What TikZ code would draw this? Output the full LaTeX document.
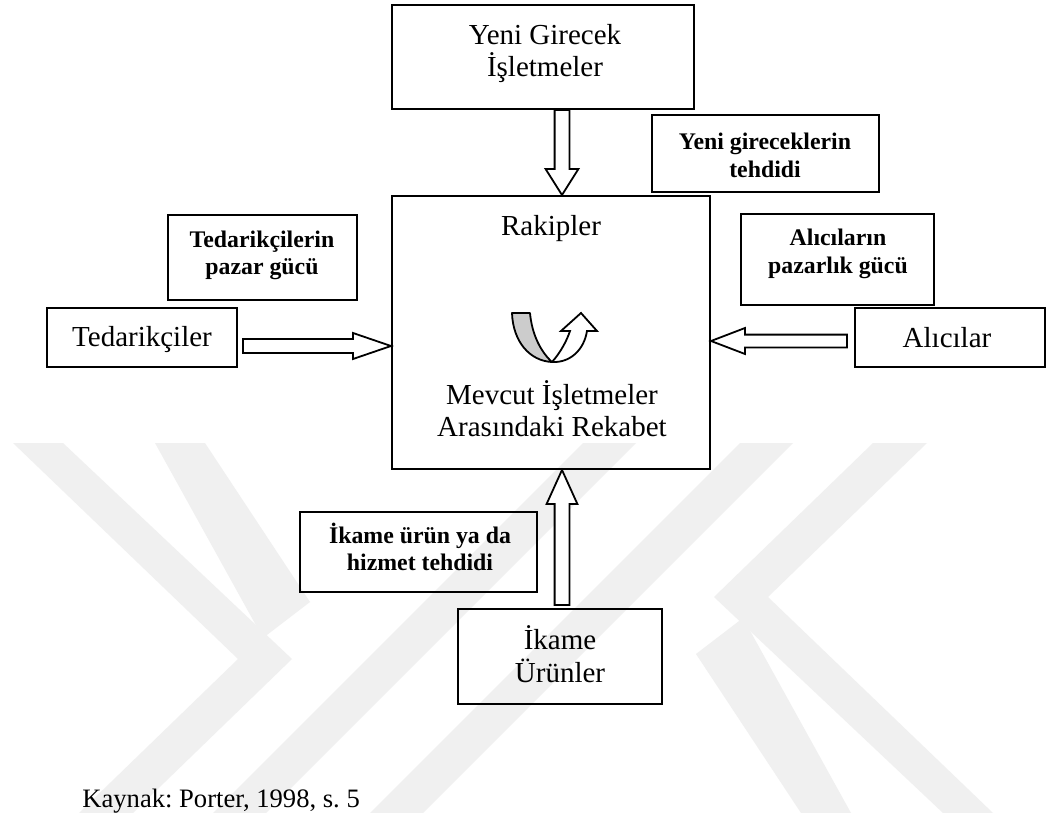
\documentclass[tikz,border=0pt]{standalone}
\usepackage{fontspec}
\setmainfont{Liberation Serif}
\usetikzlibrary{calc}
\frenchspacing

\tikzset{
  box/.style={draw, line width=1pt, rectangle, inner sep=0pt},
  tnorm/.style={font=\fontsize{14.5}{16.5}\selectfont, align=center, inner sep=0pt, anchor=base},
  tbold/.style={font=\fontsize{11.9}{13.5}\selectfont\bfseries, align=center, inner sep=0pt, anchor=base},
  hollow/.style={draw, fill=white, line width=0.9pt, line join=miter},
  wmark/.style={fill=black!6, draw=none},
}

% hollow block arrow: #1 tail, #2 tip, #3 half shaft width, #4 half head width, #5 head length
\newcommand\blockarrow[5]{%
  \path (#1) coordinate (ba-t) (#2) coordinate (ba-h);
  \path ($(ba-h)!#5!(ba-t)$) coordinate (ba-b);
  \draw[hollow] ($(ba-t)!#3!90:(ba-h)$) -- ($(ba-b)!#3!-90:(ba-t)$)
    -- ($(ba-b)!#4!-90:(ba-t)$) -- (ba-h) -- ($(ba-b)!#4!90:(ba-t)$)
    -- ($(ba-b)!#3!90:(ba-t)$) -- ($(ba-t)!#3!-90:(ba-h)$) -- cycle;
}

\begin{document}
\begin{tikzpicture}[x=0.5pt,y=-0.5pt]
\useasboundingbox (0,0) rectangle (1051,813);
\fill[white] (0,0) rectangle (1051,813);

% faint background emblem (point-symmetric about (503,628))
\fill[wmark] (13,443) -- (63,443) -- (292,659) -- (133,813) -- (79,813) -- (238,659) -- cycle;
\fill[wmark] (873,443) -- (927,443) -- (768,597) -- (993,813) -- (943,813) -- (714,597) -- cycle;
\fill[wmark] (155,443) -- (205,443) -- (310,602) -- (263,638) -- cycle;
\fill[wmark] (851,813) -- (801,813) -- (696,654) -- (743,618) -- cycle;
\fill[wmark] (740,443) -- (793,443) -- (423,813) -- (370,813) -- cycle;
\fill[wmark] (266,813) -- (213,813) -- (583,443) -- (636,443) -- cycle;

% boxes
\node[box, minimum width=151pt, minimum height=52pt] (newent) at (543,57) {};
\node[box, minimum width=159pt, minimum height=136.5pt] (rivals) at (551,332.5) {};
\node[box, minimum width=95pt, minimum height=29.5pt] (supp) at (142,337.5) {};
\node[box, minimum width=95pt, minimum height=29.5pt] (buy) at (950,337.5) {};
\node[box, minimum width=102pt, minimum height=47.5pt] (subst) at (560,656.5) {};
\node[box, minimum width=94.5pt, minimum height=42.5pt] (lsupp) at (262.5,257.5) {};
\node[box, minimum width=113.5pt, minimum height=38.5pt] (lnew) at (765.5,153.5) {};
\node[box, minimum width=96.5pt, minimum height=45.5pt] (lbuy) at (837.5,259.5) {};
\node[box, minimum width=118.5pt, minimum height=40pt] (lsubst) at (418.5,552) {};

% texts (anchored at the baseline of their last line)
\node[tnorm] (tnewent) at (545,77) {Yeni Girecek\\İşletmeler};
\node[tnorm] (trivals) at (551,235) {Rakipler};
\node[tnorm] (trivalry) at (552,437) {Mevcut İşletmeler\\Arasındaki Rekabet};
\node[tnorm] (tsupp) at (142,346) {Tedarikçiler};
\node[tnorm] (tbuy) at (947,348) {Alıcılar};
\node[tnorm] (tsubst) at (560,682) {İkame\\Ürünler};
\node[tbold] (tlnew) at (765,177) {Yeni gireceklerin\\tehdidi};
\node[tbold] (tlbuy) at (838,273) {Alıcıların\\pazarlık gücü};
\node[tbold] (tlsupp) at (262,275) {Tedarikçilerin\\pazar gücü};
\node[tbold] (tlsubst) at (420,570) {İkame ürün ya da\\hizmet tehdidi};
\node[font=\fontsize{13.3}{16}\selectfont, inner sep=0pt, anchor=base west] (src) at (82,807) {Kaynak: Porter, 1998, s. 5};

% block arrows between the forces
\path (supp.east) ++(5,8.5) coordinate (a1);
\path (a1 -| rivals.west) coordinate (b1);
\blockarrow{a1}{b1}{3.5pt}{6.5pt}{19pt}

\path (buy.west) ++(-7,3.5) coordinate (a2);
\path (a2 -| rivals.east) coordinate (b2);
\blockarrow{a2}{b2}{3.2pt}{6.5pt}{17pt}

\path (newent.south) ++(19,0) coordinate (a3);
\path (a3 |- rivals.north) coordinate (b3);
\blockarrow{a3}{b3}{3.7pt}{8.2pt}{13pt}

\path (subst.north) ++(2,-3) coordinate (a4);
\path (a4 |- rivals.south) coordinate (b4);
\blockarrow{a4}{b4}{3.7pt}{7.7pt}{17pt}

% twisted U-turn arrow inside the rivalry box
\coordinate (u) at (552,362);
\filldraw[fill=black!20, line width=0.9pt, line join=round]
  (512,313) .. controls (513,342) and (530,361) .. (u)
  .. controls (541,352) and (532,335) .. (530,313) -- cycle;
\filldraw[fill=white, line width=0.9pt, line join=miter]
  (u) .. controls (561,352) and (567,340) .. (570,331)
  -- (561,331) -- (581,313) -- (597,331) -- (587,331)
  .. controls (584,350) and (570,363) .. (u) -- cycle;
\end{tikzpicture}
\end{document}
